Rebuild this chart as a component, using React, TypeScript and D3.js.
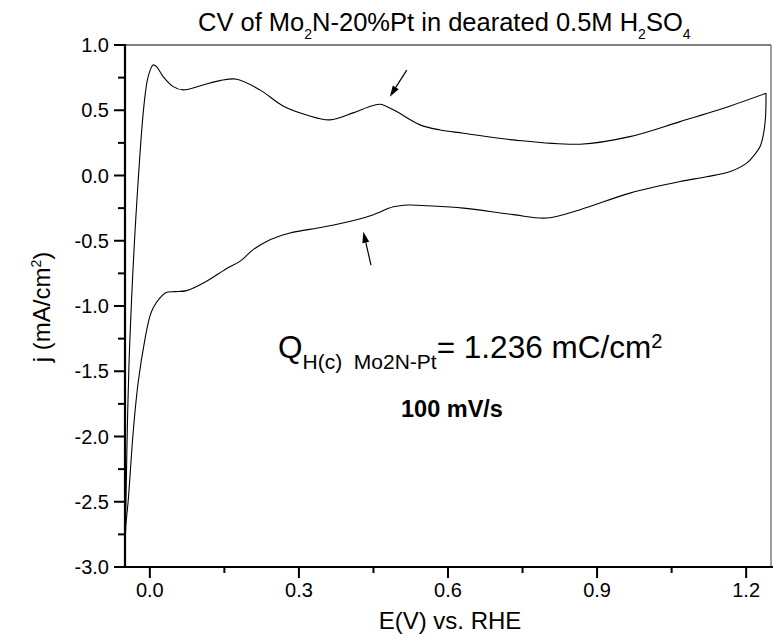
import React from "react";
import * as d3 from "d3";

// ---- Data ----
// Anodic (forward) scan, E in V vs RHE, j in mA/cm2
const anodicE = [-0.050, -0.0495, -0.048, -0.0455, -0.042, -0.0368, -0.0268, -0.0121, -0.0034, 0.0066, 0.0135, 0.0268, 0.047, 0.067, 0.107, 0.141, 0.175, 0.2215, 0.268, 0.3155, 0.362, 0.409, 0.440, 0.463, 0.490, 0.5436, 0.584, 0.631, 0.731, 0.866, 0.966, 1.067, 1.168, 1.240];
const anodicJ = [-2.98, -2.70, -2.49, -1.97, -1.45, -0.95, -0.237, 0.528, 0.758, 0.847, 0.834, 0.758, 0.681, 0.656, 0.694, 0.727, 0.738, 0.656, 0.533, 0.464, 0.426, 0.48, 0.525, 0.546, 0.503, 0.388, 0.349, 0.324, 0.273, 0.240, 0.298, 0.413, 0.533, 0.630];
// Cathodic (reverse) scan
const cathodicE = [1.240, 1.239, 1.235, 1.228, 1.215, 1.201, 1.168, 1.120, 1.067, 0.966, 0.866, 0.799, 0.731, 0.631, 0.560, 0.520, 0.490, 0.450, 0.416, 0.349, 0.282, 0.235, 0.208, 0.181, 0.154, 0.114, 0.074, 0.050, 0.034, 0.020, 0.0066, 0.0, -0.010, -0.0236, -0.0336, -0.0434, -0.0483, -0.050];
const cathodicJ = [0.630, 0.45, 0.32, 0.222, 0.15, 0.095, 0.031, -0.010, -0.046, -0.135, -0.262, -0.326, -0.300, -0.250, -0.232, -0.226, -0.240, -0.300, -0.339, -0.395, -0.441, -0.505, -0.568, -0.658, -0.714, -0.811, -0.882, -0.89, -0.895, -0.94, -1.015, -1.08, -1.257, -1.588, -1.969, -2.487, -2.686, -2.98];

// Axes
const xDomain = [-0.05, 1.25];
const yDomain = [-3.0, 1.0];
const xMajorTicks = [0.0, 0.3, 0.6, 0.9, 1.2];
const xTickLabels = ["0.0", "0.3", "0.6", "0.9", "1.2"];
const xMinorTicks = [0.15, 0.45, 0.75, 1.05];
const yMajorTicks = [-3.0, -2.5, -2.0, -1.5, -1.0, -0.5, 0.0, 0.5, 1.0];
const yTickLabels = ["-3.0", "-2.5", "-2.0", "-1.5", "-1.0", "-0.5", "0.0", "0.5", "1.0"];
const yMinorTicks = [-2.75, -2.25, -1.75, -1.25, -0.75, -0.25, 0.25, 0.75];

// Arrow annotations: [E, j] of tail and tip
const arrowTails = [[0.517, 0.808], [0.445, -0.686]];
const arrowTips = [[0.483, 0.604], [0.4296, -0.431]];

const FONT = "'Liberation Sans', Arial, Helvetica, sans-serif";

export default function App() {
  const W = 773, H = 644;
  const left = 125, right = 771, top = 45, bottom = 567;
  const x = d3.scaleLinear().domain(xDomain).range([left, right]);
  const y = d3.scaleLinear().domain(yDomain).range([bottom, top]);

  const line = d3
    .line<[number, number]>()
    .x((d) => x(d[0]))
    .y((d) => y(d[1]))
    .curve(d3.curveCatmullRom.alpha(0.5));

  const anodic = anodicE.map((e, i) => [e, anodicJ[i]] as [number, number]);
  const cathodic = cathodicE.map((e, i) => [e, cathodicJ[i]] as [number, number]);

  const arrows = arrowTails.map((t, i) => {
    const x1 = x(t[0]), y1 = y(t[1]);
    const x2 = x(arrowTips[i][0]), y2 = y(arrowTips[i][1]);
    const ang = Math.atan2(y2 - y1, x2 - x1);
    const L = 11, Wd = 3.5;
    const bx = x2 - L * Math.cos(ang), by = y2 - L * Math.sin(ang);
    const px = -Math.sin(ang) * Wd, py = Math.cos(ang) * Wd;
    return { x1, y1, bx, by, x2, y2, head: `M${x2},${y2}L${bx + px},${by + py}L${bx - px},${by - py}Z` };
  });

  return (
    <div style={{ position: "absolute", left: 0, top: 0 }}>
      <svg width={W} height={H} viewBox={`0 0 ${W} ${H}`} style={{ display: "block", background: "#fff" }} fontFamily={FONT}>
        <rect x={0} y={0} width={W} height={H} fill="#fff" />
        {/* frame */}
        <line x1={left} x2={right} y1={top} y2={top} stroke="#000" strokeWidth={1.2} />
        <line x1={right} x2={right} y1={top} y2={bottom} stroke="#808080" strokeWidth={1.5} />

        {/* curves */}
        <path d={line(anodic) || ""} fill="none" stroke="#000" strokeWidth={1.1} />
        <path d={line(cathodic) || ""} fill="none" stroke="#000" strokeWidth={1.1} />

        {/* axes */}
        <line x1={left} x2={left} y1={top - 1} y2={bottom + 1} stroke="#000" strokeWidth={2.2} />
        <line x1={left - 1} x2={W} y1={bottom} y2={bottom} stroke="#000" strokeWidth={2.2} />
        {yMajorTicks.map((t) => (
          <line key={"ym" + t} x1={left - 11} x2={left} y1={y(t)} y2={y(t)} stroke="#000" strokeWidth={2} />
        ))}
        {yMinorTicks.map((t) => (
          <line key={"yn" + t} x1={left - 7} x2={left} y1={y(t)} y2={y(t)} stroke="#000" strokeWidth={2} />
        ))}
        {xMajorTicks.map((t) => (
          <line key={"xm" + t} x1={x(t)} x2={x(t)} y1={bottom} y2={bottom + 11} stroke="#000" strokeWidth={2} />
        ))}
        {xMinorTicks.map((t) => (
          <line key={"xn" + t} x1={x(t)} x2={x(t)} y1={bottom} y2={bottom + 6} stroke="#000" strokeWidth={2} />
        ))}
        {yMajorTicks.map((t, i) => (
          <text key={"yl" + t} x={left - 16} y={y(t)} dy="0.36em" textAnchor="end" fontSize={20} fill="#000">
            {yTickLabels[i]}
          </text>
        ))}
        {xMajorTicks.map((t, i) => (
          <text key={"xl" + t} x={x(t)} y={597} textAnchor="middle" fontSize={20} fill="#000">
            {xTickLabels[i]}
          </text>
        ))}

        {/* axis titles */}
        <text x={450} y={629} textAnchor="middle" fontSize={24} fill="#000">E(V) vs. RHE</text>
        <text transform="translate(50,307) rotate(-90)" textAnchor="middle" fontSize={24} fill="#000">
          j (mA/cm<tspan fontSize={14} dy={-9}>2</tspan><tspan dy={9}>)</tspan>
        </text>

        {/* chart title */}
        <text x={198} y={31} fontSize={25.5} fill="#000">
          CV of Mo<tspan fontSize={14} dy={8}>2</tspan><tspan dy={-8}>N-20%Pt in dearated 0.5M H</tspan>
          <tspan fontSize={14} dy={8}>2</tspan><tspan dy={-8}>SO</tspan><tspan fontSize={14} dy={8}>4</tspan>
        </text>

        {/* annotations */}
        <text x={278} y={358} fontSize={31.5} fill="#000" style={{ whiteSpace: "pre" }}>
          Q<tspan fontSize={21} dy={11}>{"H(c)  Mo2N-Pt"}</tspan>
          <tspan dy={-11}>= 1.236 mC/cm</tspan>
          <tspan fontSize={20} dy={-10}>2</tspan>
        </text>
        <text x={401} y={417} fontSize={23.5} fontWeight="bold" fill="#000">100 mV/s</text>

        {arrows.map((a, i) => (
          <g key={"ar" + i}>
            <line x1={a.x1} y1={a.y1} x2={a.bx} y2={a.by} stroke="#000" strokeWidth={1.2} />
            <path d={a.head} fill="#000" />
          </g>
        ))}
      </svg>
    </div>
  );
}
